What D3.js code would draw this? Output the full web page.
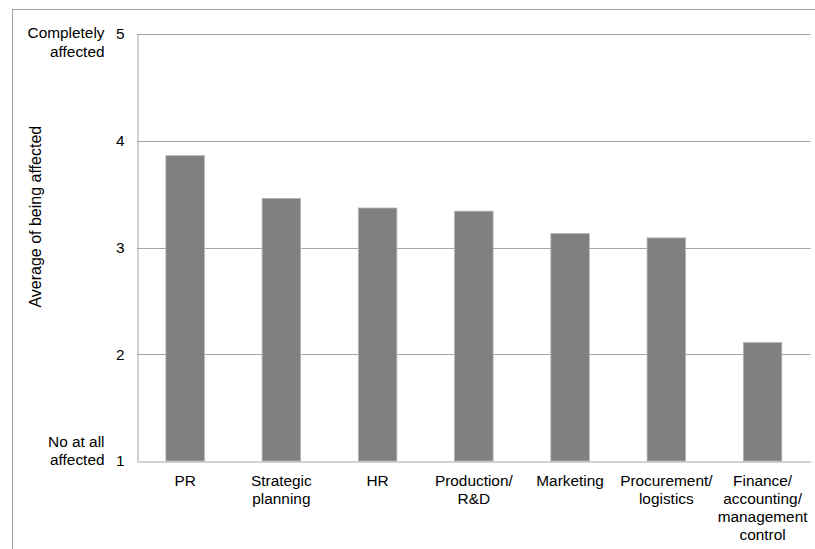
<!DOCTYPE html>
<html>
<head>
<meta charset="utf-8">
<script src="https://cdn.jsdelivr.net/npm/d3@7"></script>
<style>
  html, body { margin: 0; padding: 0; background: #fff; }
  svg { display: block; font-family: "Liberation Sans", Arial, sans-serif; }
</style>
</head>
<body>
<svg id="chart" width="815" height="549"></svg>
<script>
// Business functions and their average rating of being affected (scale 1-5)
const categories = ["PR", "Strategic planning", "HR", "Production/ R&D", "Marketing",
  "Procurement/ logistics", "Finance/ accounting/ management control"];
const categoryLines = [["PR"], ["Strategic", "planning"], ["HR"], ["Production/", "R&D"],
  ["Marketing"], ["Procurement/", "logistics"], ["Finance/", "accounting/", "management", "control"]];
const averages = [3.86, 3.46, 3.37, 3.34, 3.13, 3.09, 2.11];
const yTicks = [1, 2, 3, 4, 5];
const yTitle = "Average of being affected";
const topAnchor = ["Completely", "affected"];
const bottomAnchor = ["No at all", "affected"];

const svg = d3.select("#chart");
const fontSize = 15.4;
const gridColor = "#a6a6a6";

const plot = { left: 137, right: 810.7, top: 34, bottom: 461 };

const x = d3.scaleBand()
  .domain(categories)
  .range([plot.left, plot.right])
  .paddingInner(0.6)
  .paddingOuter(0.3);

const y = d3.scaleLinear()
  .domain([1, 5])
  .range([plot.bottom, plot.top]);

// Outer chart frame
svg.append("rect")
  .attr("x", 12.5).attr("y", 9.5)
  .attr("width", 815).attr("height", 560)
  .attr("fill", "none")
  .attr("stroke", "#a0a0a0")
  .attr("stroke-width", 1);

// Horizontal gridlines
svg.append("g")
  .selectAll("line")
  .data(yTicks.filter(t => t > 1))
  .join("line")
  .attr("x1", plot.left).attr("x2", plot.right)
  .attr("y1", d => Math.round(y(d)) + 0.5)
  .attr("y2", d => Math.round(y(d)) + 0.5)
  .attr("stroke", gridColor)
  .attr("stroke-width", 1);

// Bars
svg.append("g")
  .selectAll("rect")
  .data(averages)
  .join("rect")
  .attr("x", (d, i) => x(categories[i]))
  .attr("y", d => y(d))
  .attr("width", x.bandwidth())
  .attr("height", d => y(1) - y(d))
  .attr("fill", "#808080")
  .attr("stroke", "#b4b4b4")
  .attr("stroke-width", 0.8);

// Y axis
const yAxis = svg.append("g")
  .attr("transform", `translate(${plot.left + 0.5},0)`)
  .call(d3.axisLeft(y).tickValues(yTicks).tickFormat(d3.format("d")).tickSize(0).tickPadding(13));
yAxis.select(".domain").attr("stroke", gridColor);
yAxis.selectAll("text")
  .attr("font-size", fontSize)
  .attr("font-family", "Liberation Sans, Arial, sans-serif")
  .attr("fill", "#000");

// X axis
const xAxis = svg.append("g")
  .attr("transform", `translate(0,${plot.bottom + 0.5})`)
  .call(d3.axisBottom(x).tickSize(0).tickFormat(""));
xAxis.select(".domain").attr("stroke", gridColor);
xAxis.selectAll(".tick text").remove();

// Multi-line category labels
const labels = svg.append("g")
  .attr("font-size", fontSize)
  .attr("text-anchor", "middle")
  .attr("fill", "#000");
categories.forEach((c, i) => {
  const t = labels.append("text")
    .attr("x", x(c) + x.bandwidth() / 2)
    .attr("y", plot.bottom + 25);
  categoryLines[i].forEach((line, j) => {
    t.append("tspan")
      .attr("x", x(c) + x.bandwidth() / 2)
      .attr("dy", j === 0 ? 0 : 18)
      .text(line);
  });
});

// Scale anchor descriptions beside the top and bottom ticks
function anchorText(lines, baseline) {
  const t = svg.append("text")
    .attr("font-size", fontSize)
    .attr("text-anchor", "end")
    .attr("fill", "#000")
    .attr("y", baseline);
  lines.forEach((line, j) => {
    t.append("tspan").attr("x", 104.5).attr("dy", j === 0 ? 0 : 18.3).text(line);
  });
}
anchorText(topAnchor, y(5) + 4.3);
anchorText(bottomAnchor, y(1) - 14.3);

// Y axis title
svg.append("text")
  .attr("transform", `translate(40.5,${216.7}) rotate(-90)`)
  .attr("text-anchor", "middle")
  .attr("font-size", 16)
  .attr("fill", "#000")
  .text(yTitle);
</script>
</body>
</html>
